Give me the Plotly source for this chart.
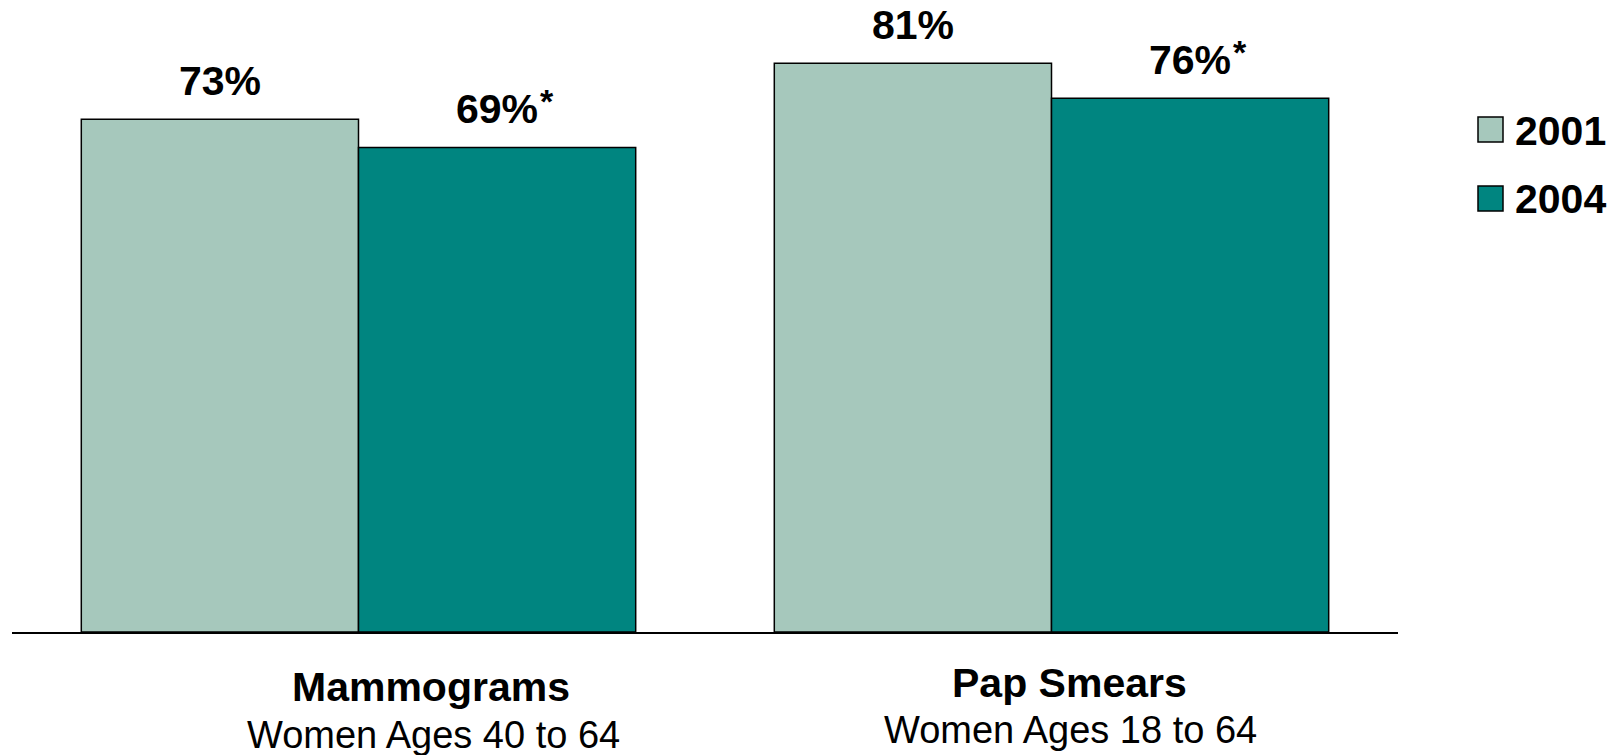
import plotly.graph_objects as go

# ---------------- data ----------------
categories = ["Mammograms", "Pap Smears"]
subtitles = ["Women Ages 40 to 64", "Women Ages 18 to 64"]
series_names = ["2001", "2004"]
values_2001 = [73, 81]
values_2004 = [69, 76]
significant_2004 = [True, True]   # marked with an asterisk

# ---------------- style ----------------
W, H = 1621, 755
OFF = 8  # page body margin offset
ML, MR, MT, MB = 4, 231, 6, 131
PW, PH = W - ML - MR, H - MT - MB
FONT = "Liberation Sans, Arial, Helvetica, sans-serif"
C2001 = "#A6C8BC"
C2004 = "#008580"
BIG = 41
SUB = 38
STAR = 34
BARGAP = 0.2
DESC = 0.212  # font descent ratio (Arial metrics)


def px_x(p):
    return (p - OFF - ML) / PW


def px_y(p):
    return (H - MB - (p - OFF)) / PH


fig = go.Figure()
fig.add_trace(go.Bar(name=series_names[0], x=categories, y=values_2001,
                     marker=dict(color=C2001, line=dict(color="black", width=1.5))))
fig.add_trace(go.Bar(name=series_names[1], x=categories, y=values_2004,
                     marker=dict(color=C2004, line=dict(color="black", width=1.5))))

annotations = []
half = (1 - BARGAP) / 4  # centre offset of each bar inside its group
for i, cat in enumerate(categories):
    annotations.append(dict(x=i - half, y=values_2001[i], xref="x", yref="y",
                            text=f"<b>{values_2001[i]}%</b>", showarrow=False,
                            xanchor="center", yanchor="bottom", yshift=15,
                            borderpad=0, borderwidth=0,
                            font=dict(family=FONT, size=BIG, color="black")))
    annotations.append(dict(x=i + half, y=values_2004[i], xref="x", yref="y",
                            text=f"<b>{values_2004[i]}%</b>", showarrow=False,
                            xanchor="center", yanchor="bottom", yshift=15,
                            borderpad=0, borderwidth=0,
                            font=dict(family=FONT, size=BIG, color="black")))
    if significant_2004[i]:
        annotations.append(dict(x=i + half, y=values_2004[i], xref="x", yref="y",
                                text="<b>*</b>", showarrow=False,
                                xanchor="left", yanchor="bottom", yshift=27, xshift=43,
                                borderpad=0, borderwidth=0,
                                font=dict(family=FONT, size=STAR, color="black")))

# category labels (pixel targets in the page: centre x, baseline y)
cat_pos = [(431.5, 701.5, 433.5, 748), (1069.5, 697, 1070, 743)]
for i, cat in enumerate(categories):
    cx, cb, sx, sb = cat_pos[i]
    annotations.append(dict(x=px_x(cx), y=px_y(cb + DESC * BIG), xref="paper", yref="paper",
                            text=f"<b>{cat}</b>", showarrow=False,
                            xanchor="center", yanchor="bottom", borderpad=0, borderwidth=0,
                            font=dict(family=FONT, size=BIG, color="black")))
    annotations.append(dict(x=px_x(sx), y=px_y(sb + DESC * SUB), xref="paper", yref="paper",
                            text=subtitles[i], showarrow=False,
                            xanchor="center", yanchor="bottom", borderpad=0, borderwidth=0,
                            font=dict(family=FONT, size=SUB, color="black")))

# manual legend
shapes = []
legend_rows = [(series_names[0], C2001, 117, 145), (series_names[1], C2004, 186, 213)]
for name, col, top, base in legend_rows:
    shapes.append(dict(type="rect", xref="paper", yref="paper",
                       x0=px_x(1478), x1=px_x(1503), y0=px_y(top + 25), y1=px_y(top),
                       fillcolor=col, line=dict(color="black", width=1.5)))
    annotations.append(dict(x=px_x(1515), y=px_y(base + DESC * BIG), xref="paper", yref="paper",
                            text=f"<b>{name}</b>", showarrow=False,
                            xanchor="left", yanchor="bottom", borderpad=0, borderwidth=0,
                            font=dict(family=FONT, size=BIG, color="black")))

fig.update_layout(
    width=W, height=H,
    margin=dict(l=ML, r=MR, t=MT, b=MB, pad=0),
    barmode="group", bargap=BARGAP, bargroupgap=0,
    plot_bgcolor="white", paper_bgcolor="white",
    showlegend=False,
    font=dict(family=FONT, color="black"),
    annotations=annotations, shapes=shapes,
)
fig.update_xaxes(showline=True, linecolor="black", linewidth=2, showticklabels=False,
                 ticks="", showgrid=False, zeroline=False)
fig.update_yaxes(range=[0, 88], showline=False, showticklabels=False, ticks="",
                 showgrid=False, zeroline=False)

fig.write_html("out.html")
